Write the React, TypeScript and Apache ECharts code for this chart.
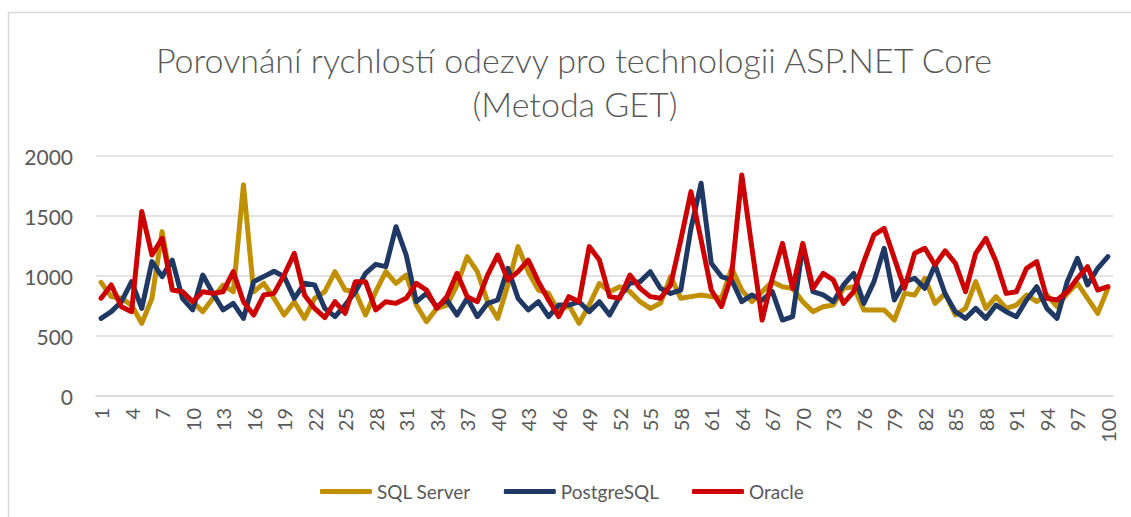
import React, { useEffect, useRef } from "react";
import * as echarts from "echarts";

const titleLine1 = "Porovnání rychlostí odezvy pro technologii ASP.NET Core";
const titleLine2 = "(Metoda GET)";

const categories: string[] = Array.from({ length: 100 }, (_, i) => String(i + 1));

const sqlServer = [
  947, 828, 814, 758, 605, 814, 1370, 890, 870, 786,
  703, 814, 925, 869, 1760, 869, 939, 814, 675, 786,
  647, 814, 869, 1036, 883, 869, 675, 869, 1036, 939,
  1008, 758, 619, 730, 758, 925, 1161, 1036, 786, 647,
  925, 1245, 1036, 883, 855, 703, 758, 605, 758, 939,
  869, 911, 870, 786, 730, 772, 995, 814, 828, 842,
  828, 814, 1064, 883, 786, 869, 953, 911, 897, 786,
  703, 744, 758, 897, 911, 717, 717, 717, 633, 855,
  842, 981, 772, 855, 675, 730, 953, 730, 828, 730,
  758, 842, 786, 842, 744, 855, 939, 814, 689, 897,
];

const postgreSql = [
  647, 703, 786, 953, 730, 1120, 995, 1133, 814, 717,
  1008, 855, 717, 772, 647, 953, 995, 1040, 995, 814,
  939, 925, 730, 661, 758, 869, 1022, 1097, 1078, 1411,
  1175, 786, 855, 744, 800, 675, 814, 661, 772, 800,
  1064, 814, 717, 786, 661, 758, 758, 786, 703, 786,
  675, 828, 939, 953, 1036, 897, 855, 883, 1397, 1773,
  1106, 995, 967, 786, 842, 800, 870, 633, 661, 1250,
  869, 842, 786, 925, 1022, 772, 953, 1231, 800, 953,
  981, 897, 1092, 850, 703, 647, 730, 647, 758, 703,
  661, 800, 911, 730, 647, 953, 1147, 925, 1064, 1161,
];

const oracle = [
  814, 925, 744, 703, 1537, 1175, 1314, 883, 869, 786,
  869, 855, 869, 1036, 786, 675, 842, 855, 1008, 1189,
  842, 730, 653, 786, 689, 953, 953, 717, 786, 772,
  814, 939, 883, 730, 828, 1022, 828, 786, 1008, 1175,
  967, 1036, 1133, 953, 800, 661, 828, 786, 1245, 1133,
  828, 814, 1008, 897, 828, 814, 925, 1300, 1703, 1300,
  883, 744, 1008, 1842, 1231, 633, 981, 1272, 897, 1272,
  897, 1022, 967, 772, 869, 1120, 1342, 1397, 1147, 897,
  1189, 1231, 1092, 1210, 1106, 869, 1189, 1314, 1120, 855,
  869, 1064, 1120, 814, 800, 869, 981, 1078, 883, 911,
];

const seriesNames = ["SQL Server", "PostgreSQL", "Oracle"];
const seriesColors = ["#C09000", "#1F3864", "#CC0000"];

export default function App() {
  const ref = useRef<HTMLDivElement>(null);
  useEffect(() => {
    document.body.style.margin = "0";
    if (!ref.current) return;
    const chart = echarts.init(ref.current, undefined, { renderer: "svg" });
    const font = "Lato";
    const data = [sqlServer, postgreSql, oracle];
    chart.setOption({
      animation: false,
      backgroundColor: "#ffffff",
      textStyle: { fontFamily: font },
      graphic: [
        {
          type: "rect",
          shape: { x: 8.5, y: 12.5, width: 1200, height: 600 },
          style: { fill: "none", stroke: "#d9d9d9", lineWidth: 1.5 },
          silent: true,
        },
        {
          type: "text",
          x: 574,
          y: 59,
          style: {
            text: titleLine1,
            fill: "#595959",
            fontFamily: font,
            fontSize: 34,
            fontWeight: 300,
            align: "center",
            verticalAlign: "middle",
          },
        },
        {
          type: "text",
          x: 575,
          y: 103,
          style: {
            text: titleLine2,
            fill: "#595959",
            fontFamily: font,
            fontSize: 34,
            fontWeight: 300,
            align: "center",
            verticalAlign: "middle",
          },
        },
      ],
      legend: {
        data: seriesNames,
        left: 315,
        top: 477,
        icon: "roundRect",
        itemWidth: 52,
        itemHeight: 5,
        itemGap: 33,
        textStyle: { color: "#595959", fontSize: 19, fontFamily: font },
      },
      grid: { left: 96, right: 18, top: 156, bottom: 121, containLabel: false },
      xAxis: {
        type: "category",
        data: categories,
        boundaryGap: true,
        axisLine: { show: true, lineStyle: { color: "#d9d9d9", width: 1.5 } },
        axisTick: { show: false },
        axisLabel: {
          interval: 2,
          rotate: 90,
          margin: 12,
          color: "#595959",
          fontSize: 20,
          fontFamily: font,
        },
      },
      yAxis: {
        type: "value",
        min: 0,
        max: 2000,
        interval: 500,
        axisLine: { show: false },
        axisTick: { show: false },
        splitLine: { lineStyle: { color: "#d9d9d9", width: 1.5 } },
        axisLabel: {
          color: "#595959",
          fontSize: 21,
          margin: 23,
          fontFamily: font,
          formatter: (v: number) => String(v),
        },
      },
      series: seriesNames.map((name, i) => ({
        name,
        type: "line",
        data: data[i],
        showSymbol: false,
        symbol: "none",
        color: seriesColors[i],
        lineStyle: { width: 5, color: seriesColors[i], cap: "round", join: "round" },
        itemStyle: { color: seriesColors[i] },
      })),
    });
    return () => chart.dispose();
  }, []);
  return <div ref={ref} style={{ width: 1131, height: 517 }} />;
}
